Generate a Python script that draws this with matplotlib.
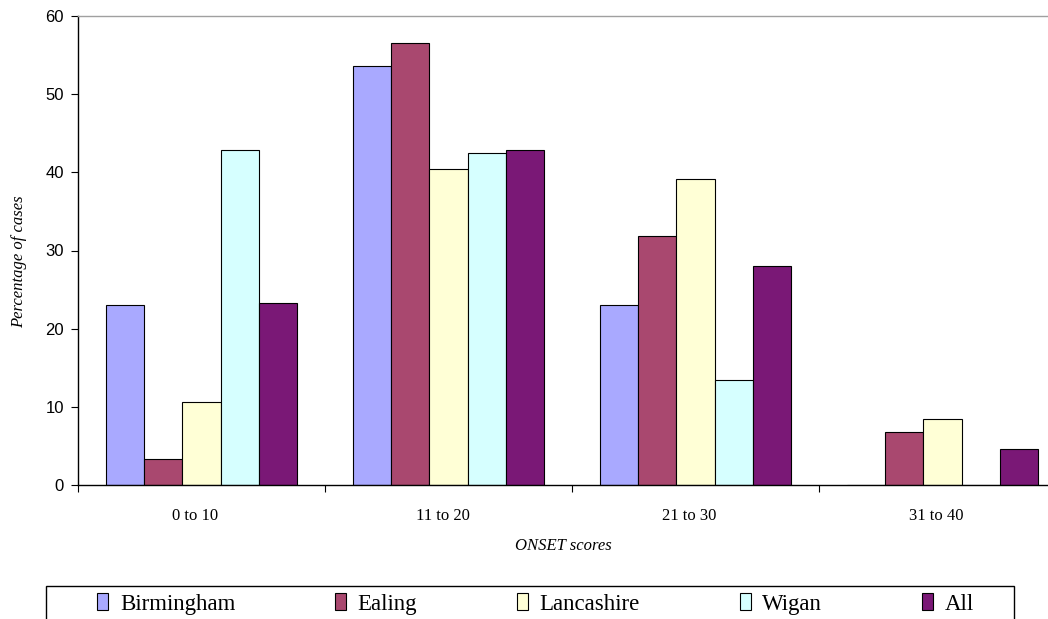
import matplotlib
matplotlib.use("Agg")
import matplotlib.pyplot as plt
import matplotlib.transforms as mtransforms
from matplotlib.patches import Rectangle
import numpy as np

# ONSET score bands and share of cases (%) per site
categories = ["0 to 10", "11 to 20", "21 to 30", "31 to 40"]
birmingham = [23.0, 53.6, 23.0, 0.0]
ealing = [3.4, 56.5, 31.9, 6.8]
lancashire = [10.6, 40.4, 39.1, 8.5]
wigan = [42.9, 42.5, 13.5, 0.0]
all_sites = [23.3, 42.9, 28.0, 4.7]

series_names = ["Birmingham", "Ealing", "Lancashire", "Wigan", "All"]
series_values = [birmingham, ealing, lancashire, wigan, all_sites]
colors = ["#A9A9FF", "#A9486F", "#FFFFD6", "#D6FFFF", "#7A1876"]

W, H = 1048, 619
fig = plt.figure(figsize=(W / 100, H / 100), dpi=100)

# plot area (pixel geometry converted to figure fractions)
left_px, right_px, top_px, bottom_px = 78, 1066, 15.7, 485.3
ax = fig.add_axes([left_px / W, 1 - bottom_px / H,
                   (right_px - left_px) / W, (bottom_px - top_px) / H])

x = np.arange(len(categories))
group_w = 0.777
bar_w = group_w / len(series_names)
handles = []
for i, (name, vals, col) in enumerate(zip(series_names, series_values, colors)):
    offs = -group_w / 2 + bar_w * (i + 0.5)
    b = ax.bar(x + offs, vals, width=bar_w, color=col, edgecolor="black",
               linewidth=0.8, label=name, zorder=2)
    handles.append(b)

ax.set_xlim(-0.5, len(categories) - 0.5)
ax.set_ylim(0, 60)
ax.set_yticks(np.arange(0, 61, 10))
ax.tick_params(axis="y", direction="out", length=5, width=0.8, pad=5,
               labelsize=12)
for lbl in ax.get_yticklabels():
    lbl.set_fontfamily("Liberation Sans")

# category boundaries as major ticks, names as minor ticks
ax.set_xticks(np.arange(-0.5, len(categories) + 0.5, 1.0))
ax.set_xticklabels([])
ax.tick_params(axis="x", which="major", direction="out", length=5, width=0.8)
ax.set_xticks(x, minor=True)
ax.set_xticklabels(categories, minor=True, fontfamily="Liberation Serif",
                   fontsize=12)
ax.tick_params(axis="x", which="minor", length=0, pad=16)
shift = mtransforms.ScaledTranslation(-6 / 100, 0, fig.dpi_scale_trans)
for lbl in ax.get_xticklabels(minor=True):
    lbl.set_transform(lbl.get_transform() + shift)

for s in ["left", "bottom"]:
    ax.spines[s].set_color("black")
    ax.spines[s].set_linewidth(1.0)
ax.spines["top"].set_color("#A0A0A0")
ax.spines["top"].set_linewidth(1.0)
ax.spines["right"].set_visible(False)

fig.text(19 / W, 1 - 261.5 / H, "Percentage of cases", rotation=90,
         ha="center", va="center", fontfamily="Liberation Serif",
         fontstyle="italic", fontsize=12)
fig.text(563 / W, 1 - 546 / H, "ONSET scores", ha="center", va="center",
         fontfamily="Liberation Serif", fontstyle="italic", fontsize=12)

# legend box
fig.patches.append(Rectangle((45.7 / W, -0.05), (1014 - 45.7) / W,
                             1 - 586 / H + 0.05, transform=fig.transFigure,
                             facecolor="white", edgecolor="black",
                             linewidth=1.0, zorder=1))
leg_y = 1 - 604 / H
fig.legend(handles=handles, labels=series_names, ncol=5, mode="expand",
           loc="center", bbox_to_anchor=(97 / W, leg_y - 0.02,
                                         (974 - 97) / W, 0.04),
           frameon=False, borderpad=0, borderaxespad=0,
           handlelength=0.5, handleheight=0.7, handletextpad=0.5,
           prop={"family": "Liberation Serif", "size": 16.5})

fig.savefig("out.png", dpi=100)
